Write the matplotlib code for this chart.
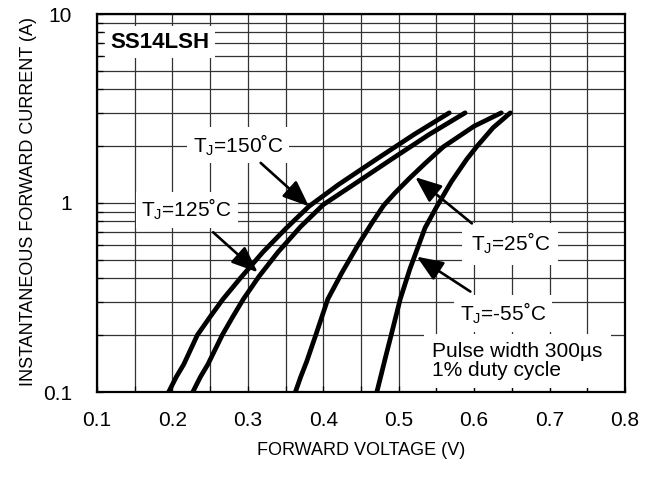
import numpy as np
import matplotlib
matplotlib.use("Agg")
import matplotlib.pyplot as plt
from matplotlib.ticker import FixedLocator, NullFormatter

plt.rcParams["font.family"] = ["Liberation Sans", "DejaVu Sans"]
plt.rcParams["mathtext.fontset"] = "custom"
plt.rcParams["mathtext.rm"] = "Liberation Sans"
plt.rcParams["mathtext.it"] = "Liberation Sans"

# forward voltage (V) / forward current (A)
v_150 = [0.195, 0.205, 0.215, 0.233, 0.250, 0.267, 0.290, 0.320, 0.350, 0.381, 0.420, 0.470, 0.520, 0.567]
i_150 = [0.10, 0.12, 0.14, 0.20, 0.25, 0.31, 0.40, 0.55, 0.73, 0.96, 1.25, 1.70, 2.30, 3.00]

v_125 = [0.227, 0.237, 0.247, 0.266, 0.280, 0.294, 0.315, 0.340, 0.370, 0.400, 0.440, 0.490, 0.540, 0.588]
i_125 = [0.10, 0.12, 0.14, 0.20, 0.25, 0.31, 0.41, 0.55, 0.75, 0.98, 1.25, 1.70, 2.30, 3.00]

v_25 = [0.363, 0.370, 0.378, 0.390, 0.406, 0.425, 0.445, 0.465, 0.480, 0.495, 0.515, 0.535, 0.559, 0.600, 0.636]
i_25 = [0.10, 0.12, 0.145, 0.20, 0.31, 0.43, 0.59, 0.79, 0.97, 1.13, 1.36, 1.62, 1.98, 2.55, 3.00]

v_m55 = [0.471, 0.476, 0.482, 0.490, 0.502, 0.515, 0.535, 0.550, 0.570, 0.590, 0.604, 0.625, 0.648]
i_m55 = [0.10, 0.12, 0.15, 0.20, 0.31, 0.45, 0.74, 0.95, 1.30, 1.70, 2.00, 2.50, 3.00]

x_ticks = [0.1, 0.2, 0.3, 0.4, 0.5, 0.6, 0.7, 0.8]
y_ticks = [0.1, 1, 10]
y_tick_labels = ["0.1", "1", "10"]

fig = plt.figure(figsize=(6.56, 4.79), dpi=100)
ax = fig.add_axes([97 / 656, 1 - 392 / 479, 528 / 656, 378 / 479])

ax.set_xlim(0.1, 0.8)
ax.set_yscale("log")
ax.set_ylim(0.1, 10)

ax.set_xticks(x_ticks)
ax.set_xticklabels([f"{t:.1f}" for t in x_ticks])
ax.xaxis.set_minor_locator(FixedLocator(np.arange(0.15, 0.8, 0.1)))
ax.set_yticks(y_ticks)
ax.set_yticklabels(y_tick_labels)
ax.yaxis.set_minor_formatter(NullFormatter())

ax.grid(True, which="both", color="#333333", lw=0.9)
ax.tick_params(which="both", direction="in", length=4, width=0.9, labelsize=15)
ax.tick_params(axis="x", pad=14)
ax.tick_params(axis="y", pad=18)
for s in ax.spines.values():
    s.set_linewidth(1.6)

curve = dict(color="black", lw=3.4, solid_capstyle="round", solid_joinstyle="round", zorder=3)
ax.plot(v_150, i_150, **curve)
ax.plot(v_125, i_125, **curve)
ax.plot(v_25, i_25, **curve)
ax.plot(v_m55, i_m55, **curve)

box = dict(facecolor="white", edgecolor="none", pad=4)
arrow = dict(arrowstyle="-|>,head_length=1.6,head_width=0.65", color="black", lw=1.9,
             shrinkA=0, shrinkB=0)

ax.text(0.184, 7.1, "SS14LSH", fontsize=16, fontweight="bold", ha="center", va="center",
        bbox=dict(facecolor="white", edgecolor="none", pad=4), zorder=4)

lab = dict(fontsize=15, ha="center", va="center", bbox=box, zorder=4)
ax.text(0.287, 2.03, r"T$_{\mathrm{J}}$=150˚C", **lab)
ax.text(0.219, 0.92, r"T$_{\mathrm{J}}$=125˚C", **lab)
ax.text(0.648, 0.61, r"T$_{\mathrm{J}}$=25˚C", **dict(lab, bbox=dict(facecolor="white", edgecolor="none", pad=6)))
ax.text(0.638, 0.26, r"T$_{\mathrm{J}}$=-55˚C", **lab)

ax.annotate("", xy=(0.381, 0.96), xytext=(0.317, 1.63), arrowprops=arrow, zorder=5)
ax.annotate("", xy=(0.313, 0.43), xytext=(0.254, 0.70), arrowprops=arrow, zorder=5)
ax.annotate("", xy=(0.522, 1.37), xytext=(0.597, 0.78), arrowprops=arrow, zorder=5)
ax.annotate("", xy=(0.524, 0.52), xytext=(0.595, 0.34), arrowprops=arrow, zorder=5)

ax.text(0.544, 0.146, "Pulse width 300µs\n1% duty cycle", fontsize=15, ha="left", va="center",
        linespacing=0.95, bbox=dict(facecolor="white", edgecolor="none", pad=6), zorder=4)

ax.set_xlabel("FORWARD VOLTAGE (V)", fontsize=13)
ax.set_ylabel("INSTANTANEOUS FORWARD CURRENT (A)", fontsize=13)
ax.xaxis.set_label_coords(0.5, -0.132)
ax.yaxis.set_label_coords(-0.113, 0.505)

fig.savefig("out.png", dpi=100)
